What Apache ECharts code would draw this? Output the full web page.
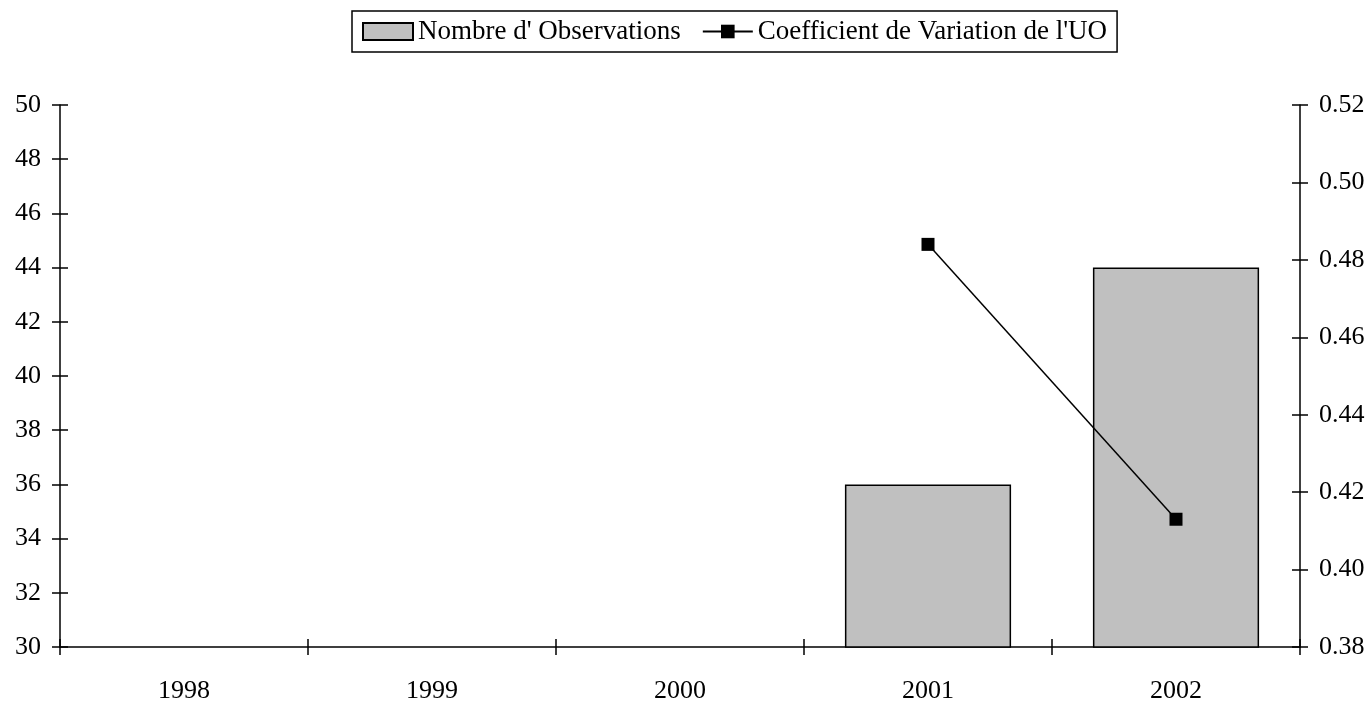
<!DOCTYPE html>
<html>
<head>
<meta charset="utf-8">
<script src="https://cdn.jsdelivr.net/npm/echarts@6/dist/echarts.min.js"></script>
<style>
  html, body { margin: 0; padding: 0; background: #fff; }
  #chart { width: 1372px; height: 704px; }
</style>
</head>
<body>
<div id="chart"></div>
<script>
// Years on the category axis
const years = ['1998', '1999', '2000', '2001', '2002'];
// Number of observations per year (left axis)
const nbObservations = [null, null, null, 36, 44];
// Coefficient of variation of the UO per year (right axis)
const coefVariation = [null, null, null, 0.484, 0.413];
// Axis ranges
const leftAxis = { min: 30, max: 50, interval: 2 };
const rightAxis = { min: 0.38, max: 0.52, interval: 0.02 };

const FONT = 'Liberation Serif';
const FS = 26;
const axisLineStyle = { color: '#000', width: 1.5 };

const chart = echarts.init(document.getElementById('chart'));

// Each axis has a twin that only draws the inner half of the ticks,
// so the tick marks cross the axis line.
function valueAxis(pos, range, withLabels, inside, formatter) {
  return {
    type: 'value',
    position: pos,
    min: range.min, max: range.max, interval: range.interval,
    axisLine: { show: withLabels, lineStyle: axisLineStyle },
    axisTick: { show: true, inside: inside, length: 8, lineStyle: axisLineStyle },
    axisLabel: {
      show: withLabels, margin: 19, color: '#000',
      fontFamily: FONT, fontSize: FS, formatter: formatter
    },
    splitLine: { show: false }
  };
}

function categoryAxis(withLabels, inside) {
  return {
    type: 'category',
    position: 'bottom',
    data: years,
    boundaryGap: true,
    axisLine: { show: withLabels, lineStyle: axisLineStyle },
    axisTick: { show: true, inside: inside, length: 8, alignWithLabel: false, lineStyle: axisLineStyle },
    axisLabel: { show: withLabels, margin: 31, color: '#000', fontFamily: FONT, fontSize: FS }
  };
}

chart.setOption({
  animation: false,
  backgroundColor: '#fff',
  textStyle: { fontFamily: FONT },
  grid: { left: 60, right: 72, top: 105, bottom: 57, containLabel: false },
  legend: {
    left: 352, top: 11,
    padding: [7, 10],
    borderColor: '#000', borderWidth: 1.5,
    itemGap: 21,
    itemWidth: 50, itemHeight: 17,
    textStyle: { color: '#000', fontFamily: FONT, fontSize: 27, lineHeight: 27 },
    data: [
      { name: "Nombre d' Observations", icon: 'rect' },
      { name: "Coefficient de Variation de l'UO" }
    ]
  },
  xAxis: [categoryAxis(true, false), categoryAxis(false, true)],
  yAxis: [
    valueAxis('left', leftAxis, true, false),
    valueAxis('right', rightAxis, true, false, v => v.toFixed(2)),
    valueAxis('left', leftAxis, false, true),
    valueAxis('right', rightAxis, false, true)
  ],
  series: [
    {
      name: "Nombre d' Observations",
      type: 'bar',
      xAxisIndex: 0, yAxisIndex: 0,
      data: nbObservations,
      barWidth: '67%',
      itemStyle: { color: '#c0c0c0', borderColor: '#000', borderWidth: 1.5 }
    },
    {
      name: "Coefficient de Variation de l'UO",
      type: 'line',
      xAxisIndex: 0, yAxisIndex: 1,
      data: coefVariation,
      symbol: 'rect', symbolSize: 13,
      lineStyle: { color: '#000', width: 1.5 },
      itemStyle: { color: '#000' },
      z: 5
    }
  ]
});
</script>
</body>
</html>
